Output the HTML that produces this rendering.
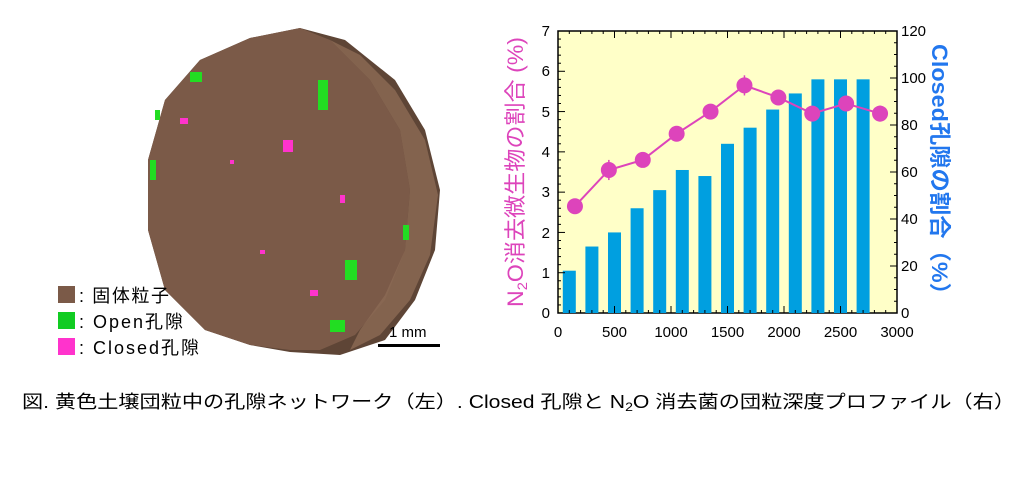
<!DOCTYPE html>
<html><head><meta charset="utf-8"><style>
body{margin:0;background:#fff;width:1024px;height:476px;overflow:hidden;font-family:"Liberation Sans","Noto Sans CJK JP",sans-serif}
</style></head><body>
<svg width="1024" height="476" viewBox="0 0 1024 476" xmlns="http://www.w3.org/2000/svg" font-family="Liberation Sans, Noto Sans CJK JP, sans-serif">
<path d="M250,38 L300,28 L345,40 L395,80 L425,130 L440,190 L435,250 L415,300 L385,340 L340,355 L290,352 L250,345 L205,330 L165,290 L148,230 L148,160 L165,100 L200,60 Z" fill="#5e4536"/>
<path d="M250,38 L300,28 L330,40 L370,80 L400,130 L410,190 L405,250 L385,300 L355,335 L320,350 L290,350 L250,345 L205,330 L165,290 L148,230 L148,160 L165,100 L200,60 Z" fill="#7b5a48"/>
<path d="M330,40 L360,55 L395,90 L425,140 L438,195 L430,255 L410,300 L380,335 L350,350 L360,330 L385,295 L405,250 L410,190 L400,130 L370,80 Z" fill="#8c6a55" opacity="0.8"/>
<g fill="#22dd22"><rect x="190" y="72" width="12" height="10"/><rect x="318" y="80" width="10" height="30"/><rect x="150" y="160" width="6" height="20"/><rect x="345" y="260" width="12" height="20"/><rect x="330" y="320" width="15" height="12"/><rect x="403" y="225" width="6" height="15"/><rect x="155" y="110" width="5" height="10"/></g>
<g fill="#ff33cc"><rect x="180" y="118" width="8" height="6"/><rect x="283" y="140" width="10" height="12"/><rect x="310" y="290" width="8" height="6"/><rect x="340" y="195" width="5" height="8"/><rect x="230" y="160" width="4" height="4"/><rect x="260" y="250" width="5" height="4"/></g>
<rect x="58" y="286" width="17" height="17" fill="#7b5a48"/><text x="79" y="302" font-size="18" textLength="90">: 固体粒子</text>
<rect x="58" y="312" width="17" height="17" fill="#11cc22"/><text x="79" y="328" font-size="18" textLength="104">: Open孔隙</text>
<rect x="58" y="338" width="17" height="17" fill="#ff33cc"/><text x="79" y="354" font-size="18" textLength="120">: Closed孔隙</text>
<text x="389" y="337" font-size="15">1 mm</text>
<rect x="378" y="344" width="62" height="3" fill="#000"/>
<rect x="558" y="31" width="339" height="282" fill="#ffffc8" stroke="#000" stroke-width="1.5"/>
<g fill="#009fe0" id="bars"></g>
<g id="dyn"></g>
<g font-size="15" fill="#000" text-anchor="end">
<text x="550" y="318">0</text><text x="550" y="278">1</text><text x="550" y="238">2</text><text x="550" y="197">3</text><text x="550" y="157">4</text><text x="550" y="117">5</text><text x="550" y="76">6</text><text x="550" y="36">7</text>
</g>
<g font-size="15" fill="#000">
<text x="901" y="318">0</text><text x="901" y="271">20</text><text x="901" y="224">40</text><text x="901" y="177">60</text><text x="901" y="130">80</text><text x="901" y="83">100</text><text x="901" y="36">120</text>
</g>
<g font-size="15" fill="#000" text-anchor="middle">
<text x="558" y="337">0</text><text x="614.5" y="337">500</text><text x="671" y="337">1000</text><text x="727.5" y="337">1500</text><text x="784" y="337">2000</text><text x="840.5" y="337">2500</text><text x="897" y="337">3000</text>
</g>
<text transform="translate(523,172) rotate(-90)" text-anchor="middle" font-size="22" fill="#dd44bb" textLength="270" lengthAdjust="spacingAndGlyphs">N<tspan font-size="14" dy="4">2</tspan><tspan dy="-4">O消去微生物の割合 (%)</tspan></text>
<text transform="translate(932,175) rotate(90)" text-anchor="middle" font-size="22" fill="#2277ee" font-weight="bold" textLength="262" lengthAdjust="spacingAndGlyphs">Closed孔隙の割合（%）</text>
<text x="22" y="408" font-size="18" fill="#000" textLength="993" lengthAdjust="spacingAndGlyphs">図. 黄色土壌団粒中の孔隙ネットワーク（左）. Closed 孔隙と N<tspan font-size="12" dy="3">2</tspan><tspan dy="-3">O 消去菌の団粒深度プロファイル（右）</tspan></text>
</svg>
<script>
const ns="http://www.w3.org/2000/svg";
const X=v=>558+v*339/3000, Y=v=>313-v*282/7;
const bars=[1.05,1.65,2.0,2.6,3.05,3.55,3.4,4.2,4.6,5.05,5.45,5.8,5.8,5.8];
const bg=document.getElementById('bars');
bars.forEach((h,i)=>{const r=document.createElementNS(ns,'rect');const cx=X(100+200*i);r.setAttribute('x',cx-6.5);r.setAttribute('width',13);r.setAttribute('y',Y(h));r.setAttribute('height',313-Y(h));bg.appendChild(r);});
const d=document.getElementById('dyn');
let s='';
for(let i=1;i<30;i++){const x=X(i*100);s+=`<line x1="${x}" y1="313" x2="${x}" y2="${i%5?310:306}" stroke="#000"/><line x1="${x}" y1="31" x2="${x}" y2="${i%5?34:38}" stroke="#000"/>`;}
for(let i=1;i<35;i++){const y=Y(i*0.2);s+=`<line x1="558" y1="${y}" x2="${i%5?561:565}" y2="${y}" stroke="#000"/>`;}
for(let i=1;i<24;i++){const y=313-i*5*282/120;s+=`<line x1="897" y1="${y}" x2="${i%4?894:890}" y2="${y}" stroke="#000"/>`;}
const px=[150,450,750,1050,1350,1650,1950,2250,2550,2850],py=[2.65,3.55,3.8,4.45,5.0,5.65,5.35,4.95,5.2,4.95],er=[0,0.25,0,0,0,0.25,0,0,0,0.2];
s+=`<polyline fill="none" stroke="#dd44bb" stroke-width="2" points="${px.map((x,i)=>X(x)+','+Y(py[i])).join(' ')}"/>`;
px.forEach((x,i)=>{if(er[i])s+=`<line x1="${X(x)}" x2="${X(x)}" y1="${Y(py[i]+er[i])}" y2="${Y(py[i]-er[i])}" stroke="#dd44bb" stroke-width="1.5"/>`;s+=`<circle cx="${X(x)}" cy="${Y(py[i])}" r="8" fill="#dd44bb"/>`;});
d.innerHTML=s;
</script>
</body></html>
